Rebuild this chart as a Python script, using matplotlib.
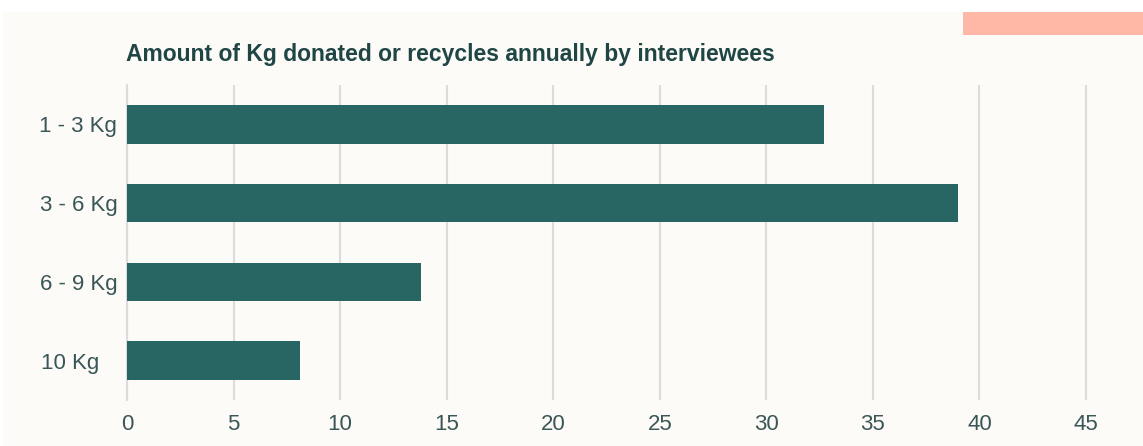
import matplotlib.pyplot as plt
from matplotlib.patches import Rectangle

categories = ["1 - 3 Kg", "3 - 6 Kg", "6 - 9 Kg", "10 Kg   "]
values = [32.7, 39.0, 13.8, 8.1]
xticks = [0, 5, 10, 15, 20, 25, 30, 35, 40, 45]

bar_color = "#286664"
text_color = "#3a5656"
title_color = "#1f4545"
bg = "#fcfbf7"

plt.rcParams['font.family'] = ['Liberation Sans', 'DejaVu Sans']

W, H = 1143, 446
fig = plt.figure(figsize=(W / 100, H / 100), dpi=100, facecolor="white")

# cream panel and salmon block at the top right
fig.patches.append(Rectangle((3 / W, 0), 1, 1 - 12 / H, transform=fig.transFigure,
                             facecolor=bg, edgecolor="none", zorder=-2))
fig.patches.append(Rectangle((963 / W, 1 - 35 / H), 1, 23 / H, transform=fig.transFigure,
                             facecolor="#ffb8a5", edgecolor="none", zorder=-1))

left, right, top, bottom = 127, 1118, 85, 400
ax = fig.add_axes([left / W, 1 - bottom / H, (right - left) / W, (bottom - top) / H])
ax.set_facecolor(bg)

ax.barh(range(len(categories)), values, height=0.49, color=bar_color, zorder=3)
ax.set_ylim(3.5, -0.5)
ax.set_xlim(0, 46.5)
ax.set_xticks(xticks)
ax.set_yticks(range(len(categories)))
ax.set_yticklabels(categories)
ax.xaxis.grid(True, color="#dcdcdc", linewidth=1.5, zorder=0)
ax.tick_params(length=0, labelsize=16, colors=text_color)
ax.tick_params(axis="x", pad=10)
ax.tick_params(axis="y", pad=7)
for s in ["top", "right", "bottom"]:
    ax.spines[s].set_visible(False)
ax.spines["left"].set_color("#dcdcdc")
ax.spines["left"].set_linewidth(1.5)

fig.text(126 / W, 1 - 55 / H, "Amount of Kg donated or recycles annually by interviewees",
         fontsize=16.5, fontweight="bold", color=title_color, va="center", ha="left")

fig.savefig("out.png", dpi=100, facecolor=fig.get_facecolor())
